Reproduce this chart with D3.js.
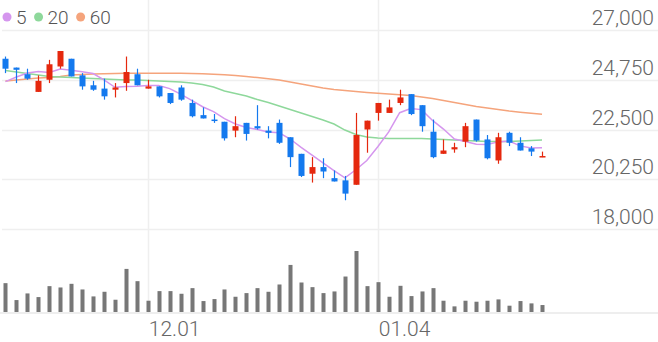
<!DOCTYPE html>
<html><head><meta charset="utf-8">
<script src="https://cdn.jsdelivr.net/npm/d3@7"></script>
<style>
html,body{margin:0;padding:0;background:#fff;}
svg{display:block;font-family:Roboto,"Noto Sans",sans-serif;}
</style></head>
<body><svg id="c" width="658" height="342"></svg>
<script>
const dates = ["2020-11-12","2020-11-13","2020-11-16","2020-11-17","2020-11-18","2020-11-19","2020-11-20","2020-11-23","2020-11-24","2020-11-25","2020-11-26","2020-11-27","2020-11-30",
"2020-12-01","2020-12-02","2020-12-03","2020-12-04","2020-12-07","2020-12-08","2020-12-09","2020-12-10","2020-12-11","2020-12-14","2020-12-15","2020-12-16","2020-12-17","2020-12-18","2020-12-21","2020-12-22","2020-12-23","2020-12-24","2020-12-28","2020-12-29","2020-12-30",
"2021-01-04","2021-01-05","2021-01-06","2021-01-07","2021-01-08","2021-01-11","2021-01-12","2021-01-13","2021-01-14","2021-01-15","2021-01-18","2021-01-19","2021-01-20","2021-01-21","2021-01-22","2021-01-25"];
const open  = [25700,25300,25000,24200,24750,25350,25700,24950,24500,24350,24300,24600,25000,24350,24450,24150,24400,23700,23150,22950,22850,22450,22800,22650,22450,22800,22150,21400,20500,20800,20300,20200,20000,22500,23250,23250,23700,24100,23600,22400,21400,21600,21950,22950,22050,21100,22350,21900,21650,21250];
const high  = [25800,25300,25250,24950,25650,26050,25700,25050,24700,24800,24600,25800,25250,24750,24450,24150,24500,23850,23500,23200,22850,23100,22800,23600,22650,22950,22150,21400,21250,21200,20650,20400,23250,22900,23700,23850,24300,24100,23600,22950,22050,21900,22800,22950,22250,22350,22400,22150,21750,21500];
const low   = [25050,24600,24750,24200,24600,25250,24900,24300,24250,23850,23950,24250,24500,24350,23950,23650,23800,23050,23000,22800,22000,22150,22000,22500,22100,21850,20800,20350,20100,20300,20150,19300,20000,21450,22900,23250,23600,23150,22400,21200,21400,21450,21700,21950,21150,20950,21750,21550,21300,21250];
const close = [25250,25200,24800,24700,25450,26050,24900,24450,24300,24000,24400,25100,24500,24450,24000,23700,23850,23100,23000,22900,22100,22650,22300,22550,22350,21900,21250,20400,20800,20600,20150,19600,22250,22900,23700,23500,23950,23200,22650,21250,21550,21700,22650,22000,21200,22150,21900,21550,21500,21300];
const volume = [870,360,560,450,780,740,850,680,470,610,370,1300,930,340,630,630,550,720,330,390,680,460,570,720,610,830,1420,890,750,570,620,1070,1840,780,900,460,790,480,620,720,340,170,340,310,340,380,190,330,260,210];
// MA5 values for the first four sessions (need earlier closes)
const ma5Lead = [24665,24875,25055,25120];
const ma20 = [25170,25100,25030,24965,24900,24875,24850,24830,24805,24785,24760,24740,24740,24715,24695,24670,24650,24600,24535,24420,24240,24130,24015,23855,23720,23565,23405,23245,23090,22930,22750,22475,22275,22160,22115,22095,22095,22095,22095,22070,22050,22025,22000,21980,21955,21955,21955,21980,22000,22025];
const ma60 = [24695,24740,24785,24830,24850,24895,24965,24985,25010,25025,25030,25040,25040,25040,25040,25040,25040,25030,25020,25000,24975,24940,24895,24850,24795,24740,24650,24560,24465,24375,24310,24265,24220,24175,24135,24105,24075,24035,23970,23900,23810,23720,23630,23540,23470,23405,23335,23280,23230,23185];
const priceTicks = [18000,20250,22500,24750,27000];
const xLabels = ["2020-12-01","2021-01-04"];
const legendItems = [{name:"5",color:"#d596ee"},{name:"20",color:"#8ed89b"},{name:"60",color:"#f5a47c"}];
const totalSlots = 60;

const W = 658, H = 342;
const UP = "#e5280e", DOWN = "#1479ee", VOLC = "#777777", GRID = "#efefef", TXT = "#666";

const svg = d3.select("#c");
const x = d3.scaleLinear().domain([-0.5, totalSlots - 0.5]).range([0, 657]);
const y = d3.scaleLinear().domain([18000, 27000]).range([229, 30]);
const yv = d3.scaleLinear().domain([0, d3.max(volume)]).range([312, 251]);

const ma5 = close.map((c,i) => i < 4 ? ma5Lead[i] : d3.mean(close.slice(i-4, i+1)));

// horizontal grid
svg.append("g").selectAll("line").data(priceTicks).join("line")
  .attr("x1", 2).attr("x2", W).attr("y1", d => Math.round(y(d))+0.5).attr("y2", d => Math.round(y(d))+0.5)
  .attr("stroke", GRID).attr("stroke-width", 1.5);
// vertical grid
const xIdx = xLabels.map(d => dates.indexOf(d));
svg.append("g").selectAll("line").data(xIdx).join("line")
  .attr("x1", d => Math.round(x(d))+0.5).attr("x2", d => Math.round(x(d))+0.5).attr("y1", 0).attr("y2", 313)
  .attr("stroke", GRID).attr("stroke-width", 1.5);
// volume baseline
svg.append("line").attr("x1",0).attr("x2",W).attr("y1",313).attr("y2",313).attr("stroke","#e8e8e8").attr("stroke-width",1.5);

// price labels
svg.append("g").selectAll("text").data(priceTicks).join("text")
  .attr("x", 654).attr("y", d => y(d) - 5).attr("text-anchor","end")
  .attr("font-size", 21).attr("fill", TXT).attr("font-weight", 300)
  .text(d => d3.format(",")(d));

// x labels
const fmt = d3.timeFormat("%m.%d"), parse = d3.timeParse("%Y-%m-%d");
svg.append("g").selectAll("text").data(xLabels).join("text")
  .attr("x", d => x(dates.indexOf(d)) + 1).attr("y", 336)
  .attr("font-size", 21).attr("fill", TXT).attr("font-weight", 300)
  .text(d => fmt(parse(d)));

// moving averages
const line = d3.line().x((d,i) => x(i)).y(d => y(d));
[[ma60, legendItems[2].color],[ma20, legendItems[1].color],[ma5, legendItems[0].color]].forEach(([arr,col]) => {
  svg.append("path").datum(arr).attr("d", line).attr("fill","none").attr("stroke", col).attr("stroke-width", 1.5);
});

// candles
const idx = d3.range(close.length);
const g = svg.append("g");
const colorOf = i => close[i] >= open[i] ? UP : DOWN;
g.selectAll("line.w").data(idx).join("line").attr("class","w")
  .attr("x1", i => Math.round(x(i))+0.5).attr("x2", i => Math.round(x(i))+0.5)
  .attr("y1", i => y(high[i])).attr("y2", i => y(low[i]))
  .attr("stroke", colorOf).attr("stroke-width", 1.2);
g.selectAll("rect.b").data(idx).join("rect").attr("class","b")
  .attr("x", i => Math.round(x(i)) - 2.5).attr("width", 6)
  .attr("y", i => y(Math.max(open[i], close[i])))
  .attr("height", i => Math.max(1.5, Math.abs(y(open[i]) - y(close[i]))))
  .attr("fill", colorOf);

// volume
svg.append("g").selectAll("rect").data(idx).join("rect")
  .attr("x", i => Math.round(x(i)) - 1.5).attr("width", 4)
  .attr("y", i => yv(volume[i])).attr("height", i => 312 - yv(volume[i]))
  .attr("fill", VOLC);

// legend
const lg = svg.append("g");
let lx = 7;
legendItems.forEach(it => {
  lg.append("circle").attr("cx", lx).attr("cy", 17).attr("r", 4.5).attr("fill", it.color);
  const t = lg.append("text").attr("x", lx + 9).attr("y", 24).attr("font-size", 19).attr("fill", "#555").attr("font-weight",300).text(it.name);
  lx += 9 + t.node().getComputedTextLength() + 12;
});
</script></body></html>
